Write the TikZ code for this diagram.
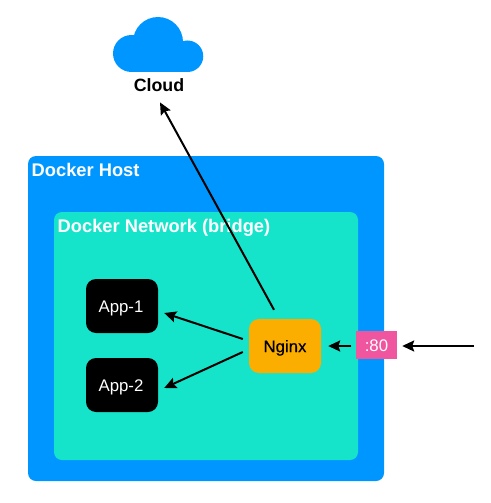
\documentclass[tikz,border=0pt]{standalone}
\usepackage{fontspec}
\setmainfont{Liberation Sans}
\usetikzlibrary{arrows.meta,calc,positioning}
\definecolor{hostblue}{RGB}{0,150,255}
\definecolor{netteal}{RGB}{22,228,202}
\definecolor{nginxorange}{RGB}{251,174,0}
\definecolor{portpink}{RGB}{240,86,160}
\tikzset{
  areabox/.style={rectangle,rounded corners=8pt,inner sep=0pt},
  labeltext/.style={text height=12.4pt,text depth=0pt},
  appbox/.style={rectangle,rounded corners=10pt,fill=black,text=white,minimum width=72pt,minimum height=54pt,inner sep=0pt,labeltext,font=\fontsize{16.8}{18}\selectfont},
  areatitle/.style={anchor=west,inner sep=0pt,text=white,labeltext,font=\bfseries\fontsize{18.3}{20}\selectfont},
  conn/.style={draw=black,line width=2pt,-{Stealth[length=12pt,width=11pt,inset=2pt]}},
}
\begin{document}
\begin{tikzpicture}[x=1pt,y=-1pt]
\useasboundingbox (0,0) rectangle (490,503);
% cloud
\fill[hostblue] (131.5,53.5) circle[radius=18.5];
\fill[hostblue] (158,42) circle[radius=25];
\fill[hostblue] (187.5,56.25) circle[radius=15.75];
\fill[hostblue] (131.5,45) rectangle (187.5,72);
\node[inner sep=0pt,labeltext,font=\bfseries\fontsize{17.8}{20}\selectfont] (cloudlabel) at (159,85.5) {Cloud};
% areas
\node[areabox,fill=hostblue,minimum width=356pt,minimum height=325pt] (host) at (206,318.5) {};
\node[areabox,fill=netteal,minimum width=304pt,minimum height=248pt] (net) at (206,336) {};
\node[areatitle] (hosttitle) at (31.5,170) {Docker Host};
\node[areatitle] (nettitle) at (57.5,226) {Docker Network (bridge)};
% nodes
\node[appbox] (app1) at (122,306) {App-1\kern2pt};
\node[appbox] (app2) at (122,385) {App-2\kern2pt};
\node[appbox,fill=nginxorange,text=black,font=\fontsize{16.8}{18}\selectfont\addfontfeature{FakeBold=0.4}] (nginx) at (285,346) {Nginx};
\node[rectangle,fill=portpink,text=white,minimum width=41pt,minimum height=28pt,inner sep=0pt,labeltext,font=\fontsize{16.8}{18}\selectfont] (port) at (376.5,345) {:80};
\coordinate (ext) at (474,346);
% connectors
\draw[conn] ($(nginx.north)+(-11,-9)$) -- ($(cloudlabel.south)+(1,10.5)$);
\draw[conn] ($(nginx.west)+(-6,-7)$) -- ($(app1.east)+(6,7)$);
\draw[conn] ($(nginx.west)+(-6,6)$) -- ($(app2.east)+(6,3)$);
\draw[conn] ($(port.west)+(-4.5,1)$) -- ($(nginx.east)+(7,0)$);
\draw[conn] (ext) -- ($(port.east)+(5,1)$);
\end{tikzpicture}
\end{document}
